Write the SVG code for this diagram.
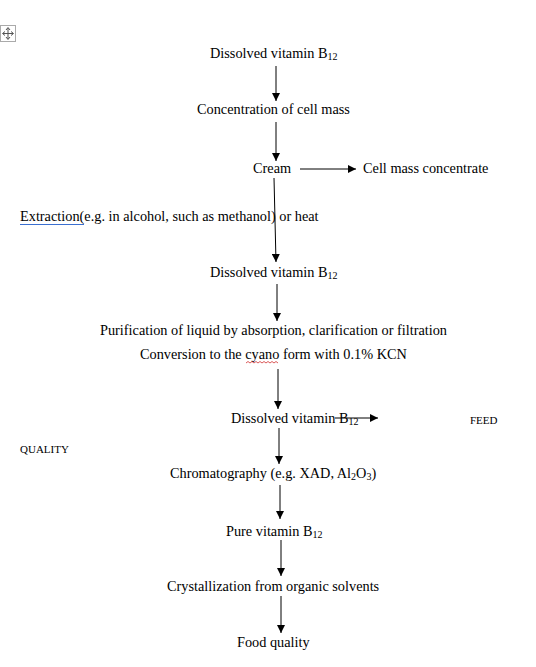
<svg xmlns="http://www.w3.org/2000/svg" width="536" height="667" viewBox="0 0 536 667">
<style>
text{font-family:"Liberation Serif","Times New Roman",serif;font-size:14.3px;fill:#000}
.sm{font-size:11px}
.sub{font-size:10px}
.c{stroke:#000;stroke-width:1;fill:none}
</style>
<defs>
<marker id="ah" viewBox="0 0 10 10" refX="10" refY="5" markerWidth="8" markerHeight="8" markerUnits="userSpaceOnUse" orient="auto"><path d="M0,0 L10,5 L0,10 z" fill="#000"/></marker>
</defs>
<rect width="536" height="667" fill="#fff"/>
<g id="move-icon">
<rect x="0.5" y="25.5" width="15" height="16" fill="#fff" stroke="#aaa"/>
<path d="M8,28 V39 M3,33.5 H13" stroke="#555" fill="none"/>
<path d="M6,30 L8,27.5 L10,30 M6,37 L8,39.5 L10,37 M5,31.5 L2.5,33.5 L5,35.5 M11,31.5 L13.5,33.5 L11,35.5" stroke="#555" fill="none"/>
</g>
<g id="connectors">
<line class="c" x1="276" y1="66" x2="276" y2="101" marker-end="url(#ah)"/>
<line class="c" x1="276" y1="122" x2="276" y2="161" marker-end="url(#ah)"/>
<line class="c" x1="300" y1="169" x2="356" y2="169" marker-end="url(#ah)"/>
<line class="c" x1="274" y1="178" x2="276" y2="262" marker-end="url(#ah)"/>
<line class="c" x1="277" y1="284" x2="277" y2="321" marker-end="url(#ah)"/>
<line class="c" x1="278" y1="369" x2="278" y2="409" marker-end="url(#ah)"/>
<line class="c" x1="335" y1="418" x2="378" y2="418" marker-end="url(#ah)"/>
<line class="c" x1="279" y1="428" x2="279" y2="464" marker-end="url(#ah)"/>
<line class="c" x1="280" y1="485" x2="280" y2="519" marker-end="url(#ah)"/>
<line class="c" x1="281" y1="540" x2="281" y2="576" marker-end="url(#ah)"/>
<line class="c" x1="281" y1="596" x2="281" y2="633" marker-end="url(#ah)"/>
</g>
<g id="n1"><text x="210" y="58">Dissolved vitamin B<tspan class="sub" dy="2">12</tspan></text></g>
<g id="n2"><text x="197" y="114">Concentration of cell mass</text></g>
<g id="n3"><text x="253" y="173">Cream</text></g>
<g id="n4"><text x="363" y="173">Cell mass concentrate</text></g>
<g id="n5"><text x="20" y="221">Extraction(e.g. in alcohol, such as methanol) or heat</text>
<line x1="20" y1="224.5" x2="84" y2="224.5" stroke="#3b6fd0" stroke-width="1"/></g>
<g id="n6"><text x="210" y="277">Dissolved vitamin B<tspan class="sub" dy="2">12</tspan></text></g>
<g id="n7"><text x="100" y="335">Purification of liquid by absorption, clarification or filtration</text></g>
<g id="n8"><text x="140" y="359">Conversion to the cyano form with 0.1% KCN</text>
<path d="M246,363 l2,-1.5 l2,1.5 l2,-1.5 l2,1.5 l2,-1.5 l2,1.5 l2,-1.5 l2,1.5 l2,-1.5 l2,1.5 l2,-1.5 l2,1.5 l2,-1.5 l2,1.5 l2,-1.5 l2,1.5" stroke="#d03030" fill="none" stroke-width="0.8"/></g>
<g id="n9"><text x="231" y="423">Dissolved vitamin B<tspan class="sub" dy="2">12</tspan></text></g>
<g id="n10"><text class="sm" x="470" y="424">FEED</text></g>
<g id="n11"><text class="sm" x="20" y="453">QUALITY</text></g>
<g id="n12"><text x="170" y="478">Chromatography (e.g. XAD, Al<tspan class="sub" dy="2">2</tspan><tspan dy="-2">O</tspan><tspan class="sub" dy="2">3</tspan><tspan dy="-2">)</tspan></text></g>
<g id="n13"><text x="226" y="536">Pure vitamin B<tspan class="sub" dy="2">12</tspan></text></g>
<g id="n14"><text x="167" y="591">Crystallization from organic solvents</text></g>
<g id="n15"><text x="237" y="647">Food quality</text></g>
</svg>
